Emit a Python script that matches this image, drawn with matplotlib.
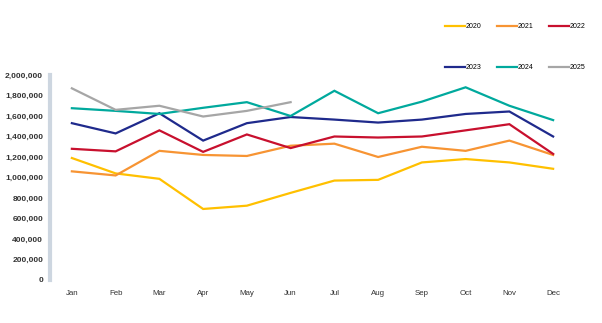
import numpy as np
import matplotlib.pyplot as plt

plt.rcParams["font.family"] = ["Liberation Sans", "DejaVu Sans"]

months = ["Jan", "Feb", "Mar", "Apr", "May", "Jun",
          "Jul", "Aug", "Sep", "Oct", "Nov", "Dec"]

y2020 = [1190000, 1040000, 987000, 693000, 725000, 850000,
         970000, 977000, 1147000, 1180000, 1147000, 1085000]
y2021 = [1060000, 1020000, 1260000, 1220000, 1210000, 1310000,
         1330000, 1200000, 1300000, 1260000, 1360000, 1220000]
y2022 = [1280000, 1255000, 1460000, 1250000, 1420000, 1287000,
         1400000, 1390000, 1400000, 1460000, 1520000, 1230000]
y2023 = [1530000, 1430000, 1627000, 1360000, 1530000, 1590000,
         1565000, 1536000, 1565000, 1620000, 1644000, 1400000]
y2024 = [1676000, 1650000, 1620000, 1680000, 1735000, 1600000,
         1846000, 1627000, 1740000, 1880000, 1700000, 1560000]
y2025 = [1870000, 1660000, 1700000, 1595000, 1650000, 1735000]

series = [("2020", y2020, "#FFC000"),
          ("2021", y2021, "#F79433"),
          ("2022", y2022, "#C8102E"),
          ("2023", y2023, "#1F2A8C"),
          ("2024", y2024, "#00A99D"),
          ("2025", y2025, "#A6A6A6")]

fig = plt.figure(figsize=(6.02, 3.23), dpi=100)
ax = fig.add_axes([50/602, 1-280/323, 525/602, 205/323])

x = np.arange(len(months))
lines = {}
for name, vals, col in series:
    ln, = ax.plot(x[:len(vals)], vals, color=col, lw=1.6, label=name,
                  solid_joinstyle='miter')
    lines[name] = ln

ax.set_xlim(-0.5, 11.5)
ax.set_ylim(0, 2000000)
ax.set_yticks(np.arange(0, 2000001, 200000))
ax.set_yticklabels([f"{v:,}" for v in range(0, 2000001, 200000)])
ax.set_xticks(x)
ax.set_xticklabels(months)

for s in ["top", "right", "bottom"]:
    ax.spines[s].set_visible(False)
ax.spines["left"].set_color("#CDD6E0")
ax.spines["left"].set_linewidth(3)
ax.tick_params(axis="y", length=0, pad=5, labelsize=6, labelcolor="#333333")
ax.tick_params(axis="x", length=0, pad=7, labelsize=5.7, labelcolor="#333333")
for lbl in ax.get_yticklabels():
    lbl.set_fontweight("bold")

order = ["2020", "2023", "2021", "2024", "2022", "2025"]
fig.legend([lines[n] for n in order], order, ncol=3, frameon=False,
           loc="upper left", bbox_to_anchor=(445/602, 1-23/323),
           fontsize=5, handlelength=2.9, handletextpad=0.1,
           columnspacing=2.2, labelspacing=4.9, borderpad=0,
           borderaxespad=0)

fig.savefig("out.png", dpi=100)
